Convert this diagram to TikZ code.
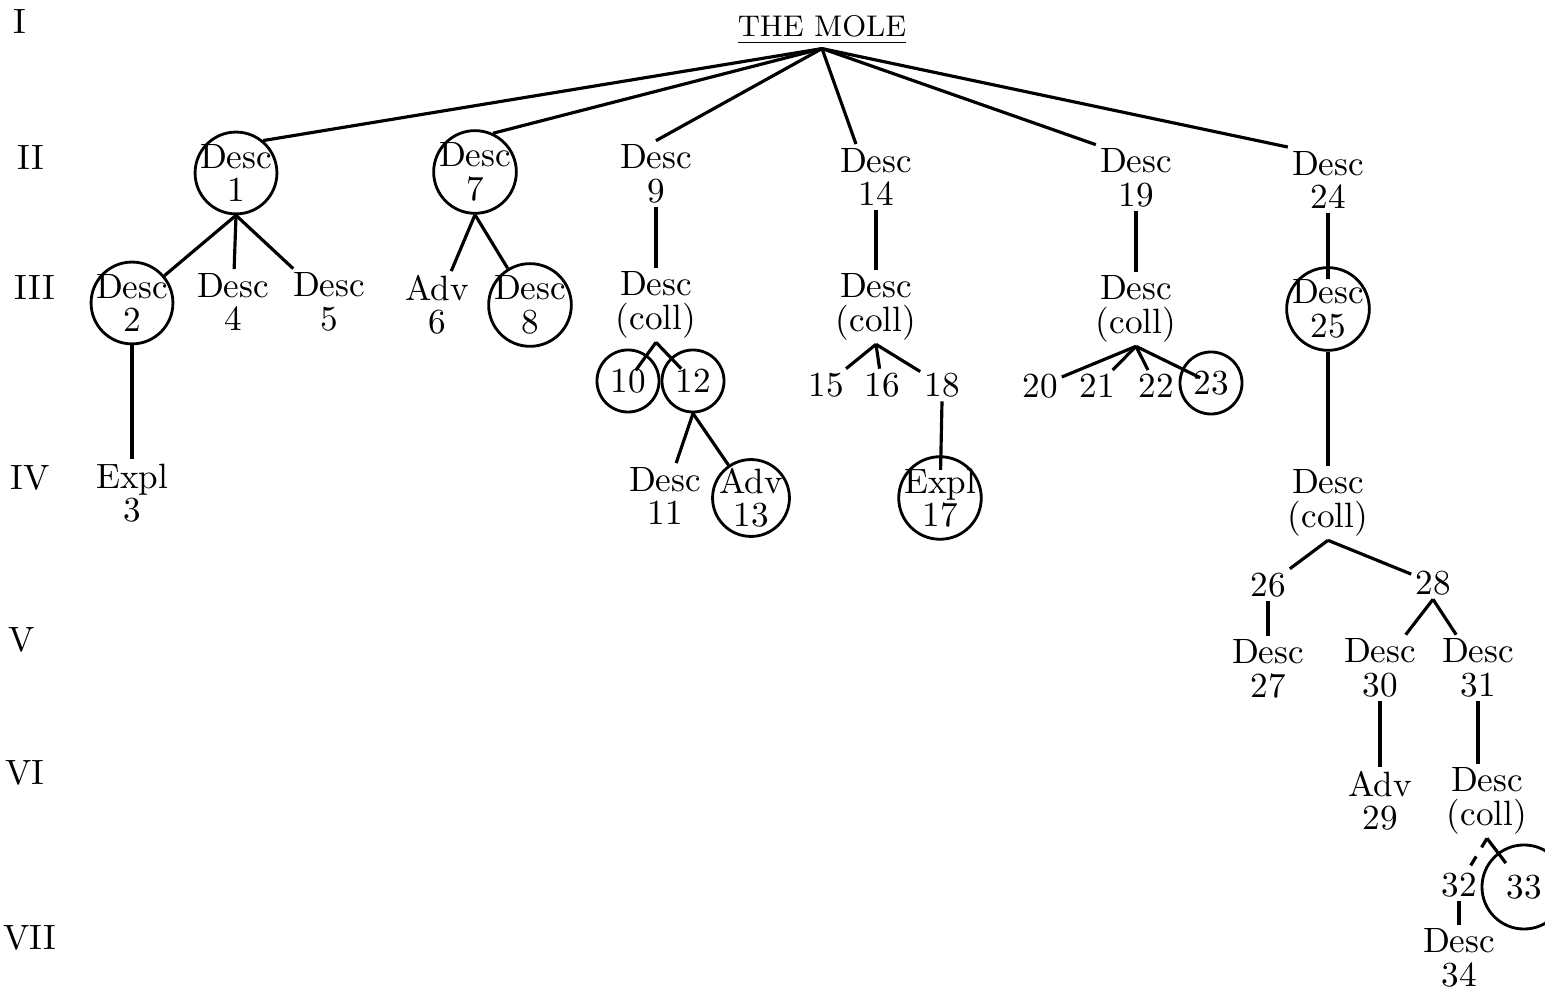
\documentclass[tikz,border=0pt]{standalone}

\begin{document}
\begin{tikzpicture}[
    x=0.01cm, y=-0.01cm,
    every node/.style={font=\fontsize{10}{9.5}\selectfont, align=center, inner sep=1pt},
    ring/.style={draw, circle, inner sep=-1pt, line width=0.8pt},
    numring/.style={draw, circle, inner sep=0pt, minimum size=0.62cm, line width=0.8pt},
    link/.style={line width=0.9pt},
]
    \useasboundingbox (0,0) rectangle (1545,992);

    \node (lI) at (20,22) {I};
    \node (lII) at (31,158) {II};
    \node (lIII) at (35,287) {III};
    \node (lIV) at (30,478) {IV};
    \node (lV) at (22,640) {V};
    \node (lVI) at (25,773) {VI};
    \node (lVII) at (30,938) {VII};

    \node[font=\fontsize{8.5}{10}\selectfont] (mole) at (822,30) {\underline{THE MOLE}};

    \node[ring] (d1) at (236,173) {Desc\\1};
    \node[ring] (d7) at (475,172) {Desc\\7};
    \node (d9) at (656,174) {Desc\\9};
    \node (d14) at (876,177) {Desc\\14};
    \node (d19) at (1136,178) {Desc\\19};
    \node (d24) at (1328,180) {Desc\\24};
    \draw[link] (mole.south) -- (d1.50);
    \draw[link] (mole.south) -- (d7.65);
    \draw[link] (mole.south) -- (d9.north);
    \draw[link] (mole.south) -- ([xshift=-0.2cm]d14.north);
    \draw[link] (mole.south) -- (d19.north west);
    \draw[link] (mole.south) -- (d24.north west);

    \node[ring] (d2) at (132,303) {Desc\\2};
    \node (d4) at (233,302) {Desc\\4};
    \node (d5) at (329,302) {Desc\\5};
    \node (a6) at (437,305) {Adv\\6};
    \node[ring] (d8) at (530,305) {Desc\\8};
    \node (c9) at (656,305) {Desc\\(coll)};
    \node (c14) at (876,307) {Desc\\(coll)};
    \node (c19) at (1136,309) {Desc\\(coll)};
    \node[ring] (d25) at (1328,309) {Desc\\25};
    \draw[link] (d1.south) -- (d2);
    \draw[link] (d1.south) -- (d4);
    \draw[link] (d1.south) -- (d5);
    \draw[link] (d7.south) -- (a6);
    \draw[link] (d7.south) -- (d8);
    \draw[link] (d9.south) -- (c9);
    \draw[link] (d14.south) -- (c14);
    \draw[link] (d19.south) -- (c19);
    \draw[link, shorten >=0.3cm] (d24.south) -- (d25.center);

    \node[numring] (n10) at (628,381) {10};
    \node[numring] (n12) at (693,381) {12};
    \node (n15) at (826,385) {15};
    \node (n16) at (882,385) {16};
    \node (n18) at (942,385) {18};
    \node (n20) at (1040,386) {20};
    \node (n21) at (1097,386) {21};
    \node (n22) at (1156,386) {22};
    \node[numring] (n23) at (1211,383) {23};
    \draw[link, shorten >=0.13cm] (c9.south) -- (n10.center);
    \draw[link, shorten >=0.17cm] (c9.south) -- (n12.center);
    \draw[link] (c14.south) -- (n15);
    \draw[link] (c14.south) -- (n16);
    \draw[link] (c14.south) -- (n18);
    \draw[link] (c19.south) -- (n20);
    \draw[link] (c19.south) -- (n21);
    \draw[link] (c19.south) -- (n22);
    \draw[link, shorten >=0.12cm] (c19.south) -- (n23.center);

    \node (e3) at (132,493) {Expl\\3};
    \node (d11) at (665,496) {Desc\\11};
    \node[ring] (a13) at (751,498) {Adv\\13};
    \node[ring] (e17) at (940,498) {Expl\\17};
    \node (c25) at (1328,503) {Desc\\(coll)};
    \draw[link] (d2.south) -- (e3);
    \draw[link] (n12.south) -- (d11);
    \draw[link] (n12.south) -- (a13);
    \draw[link, shorten >=0.28cm] (n18.south) -- (e17.center);
    \draw[link] (d25.south) -- (c25);

    \node (n26) at (1268,585) {26};
    \node (n28) at (1433,583) {28};
    \draw[link] (c25.south) -- (n26);
    \draw[link] (c25.south) -- (n28);

    \node (d27) at (1268,669) {Desc\\27};
    \node (d30) at (1380,668) {Desc\\30};
    \node (d31) at (1478,668) {Desc\\31};
    \draw[link] (n26) -- (d27);
    \draw[link] (n28.south) -- (d30);
    \draw[link] (n28.south) -- (d31);

    \node (a29) at (1380,801) {Adv\\29};
    \node (c31) at (1487,801) {Desc\\(coll)};
    \draw[link] (d30) -- (a29);
    \draw[link] (d31.south) -- (d31.south |- c31.north);

    \node (n32) at (1459,885) {32};
    \node[numring, minimum size=0.84cm] (n33) at (1524,887) {33};
    \node (d34) at (1459,958) {Desc\\34};
    \draw[link, dashed] (c31.south) -- (n32);
    \draw[link, shorten >=0.3cm] (c31.south) -- (n33.center);
    \draw[link] (n32) -- (d34);
\end{tikzpicture}
\end{document}
